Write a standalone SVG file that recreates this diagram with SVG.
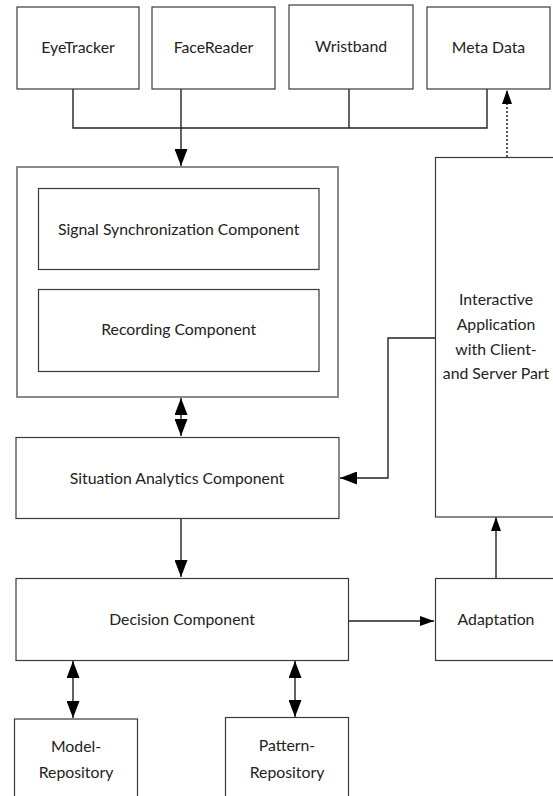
<svg xmlns="http://www.w3.org/2000/svg" width="553" height="796" viewBox="0 0 553 796">
<style>
.box{fill:#fff;stroke:#3a3a3a;stroke-width:1.2}
.outer{fill:#fff;stroke:#8a8a8a;stroke-width:2}
.lbl{font-family:Lato,"Open Sans","Liberation Sans",sans-serif;font-size:15.8px;fill:#222;text-anchor:middle}
.ln{fill:none;stroke:#222;stroke-width:1.4}
.dash{fill:none;stroke:#222;stroke-width:1.5;stroke-dasharray:2 2}
</style>
<defs>
<marker id="ah" markerUnits="userSpaceOnUse" markerWidth="17" markerHeight="13" refX="17" refY="6.5" orient="auto-start-reverse">
<path d="M0,0 L17,6.5 L0,13 z" fill="#000"/>
</marker>
<marker id="ahs" markerUnits="userSpaceOnUse" markerWidth="14" markerHeight="10" refX="14" refY="5" orient="auto-start-reverse">
<path d="M0,0 L14,5 L0,10 z" fill="#000"/>
</marker>
</defs>
<rect width="553" height="796" fill="#fff"/>
<g id="connectors">
<path class="ln" d="M73,89 V128 H487 V89"/>
<path class="ln" d="M349,89 V128"/>
<path class="ln" d="M181,89 V166" marker-end="url(#ah)"/>
<path class="dash" d="M507,157 V90" marker-end="url(#ahs)"/>
<path class="ln" d="M181,398 V436" marker-start="url(#ah)" marker-end="url(#ah)"/>
<path class="ln" d="M435,338 H388 V478 H340" marker-end="url(#ah)"/>
<path class="ln" d="M181,518 V577" marker-end="url(#ah)"/>
<path class="ln" d="M348,621 H434" marker-end="url(#ahs)"/>
<path class="ln" d="M496,578 V517" marker-end="url(#ahs)"/>
<path class="ln" d="M73,661 V718" marker-start="url(#ah)" marker-end="url(#ah)"/>
<path class="ln" d="M295,661 V717" marker-start="url(#ah)" marker-end="url(#ah)"/>
</g>
<g id="eyetracker"><rect class="box" x="17" y="7" width="122" height="82"/><text class="lbl" x="78" y="53">EyeTracker</text></g>
<g id="facereader"><rect class="box" x="152" y="7" width="123" height="82"/><text class="lbl" x="213.5" y="53">FaceReader</text></g>
<g id="wristband"><rect class="box" x="289" y="5" width="124" height="84"/><text class="lbl" x="351" y="52">Wristband</text></g>
<g id="metadata"><rect class="box" x="427" y="7" width="123" height="82"/><text class="lbl" x="488.5" y="53">Meta Data</text></g>
<g id="recording-unit"><rect class="outer" x="17" y="167" width="321" height="230"/></g>
<g id="signal-sync"><rect class="box" x="38.5" y="188.5" width="280.5" height="81"/><text class="lbl" x="178.7" y="235">Signal Synchronization Component</text></g>
<g id="recording"><rect class="box" x="38.5" y="289.5" width="280.5" height="82"/><text class="lbl" x="178.7" y="335">Recording Component</text></g>
<g id="situation"><rect class="box" x="16" y="437.5" width="323" height="81"/><text class="lbl" x="177" y="484">Situation Analytics Component</text></g>
<g id="interactive"><rect class="box" x="435.5" y="157.5" width="130" height="359.5"/>
<text class="lbl" x="496" y="305">Interactive</text>
<text class="lbl" x="496" y="330">Application</text>
<text class="lbl" x="496" y="355">with Client-</text>
<text class="lbl" x="496" y="379">and Server Part</text></g>
<g id="decision"><rect class="box" x="16" y="578.5" width="332.5" height="82"/><text class="lbl" x="182" y="625">Decision Component</text></g>
<g id="adaptation"><rect class="box" x="435.5" y="578.5" width="130" height="82"/><text class="lbl" x="496" y="625">Adaptation</text></g>
<g id="model-repo"><rect class="box" x="14.5" y="719" width="123" height="90"/><text class="lbl" x="76" y="752">Model-</text><text class="lbl" x="76" y="778">Repository</text></g>
<g id="pattern-repo"><rect class="box" x="225.5" y="717.5" width="123" height="90"/><text class="lbl" x="287" y="751">Pattern-</text><text class="lbl" x="287" y="778">Repository</text></g>
</svg>
